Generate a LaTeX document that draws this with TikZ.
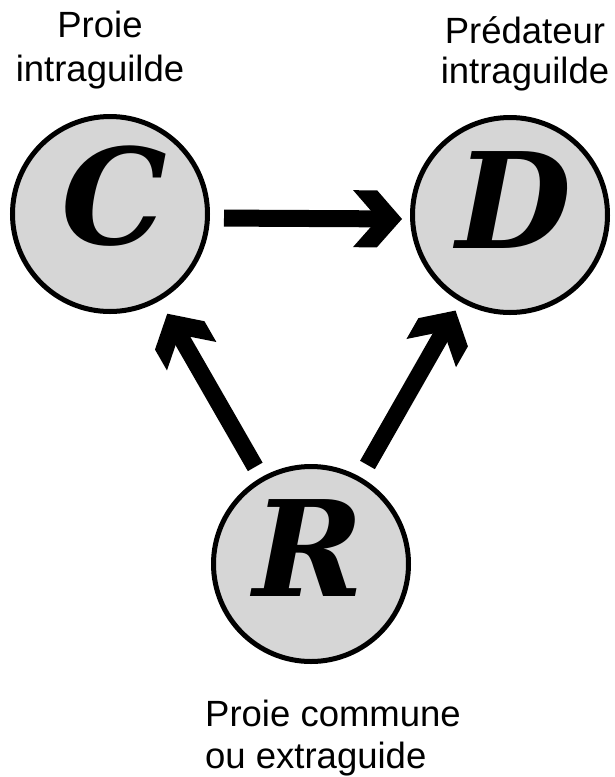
\documentclass[tikz,border=0pt]{standalone}
\usepackage{fontspec}
\setmainfont{Liberation Sans}
\newfontfamily\letterfont{DejaVu Serif}
\usetikzlibrary{arrows.meta}

\definecolor{disc}{RGB}{214,214,214}

% Chevron-shaped arrow head with flat outer corners and a back notch
\pgfdeclarearrow{
  name = Chevron,
  parameters = {\the\pgfarrowlength,\the\pgfarrowwidth},
  setup code = {
    \pgfarrowssettipend{0pt}
    \pgfarrowssetbackend{-\pgfarrowlength}
    \pgfarrowssetlineend{-0.4\pgfarrowlength}
    \pgfarrowssetvisualbackend{-0.49\pgfarrowlength}
    \pgfarrowshullpoint{0pt}{0pt}
    \pgfarrowsupperhullpoint{-\pgfarrowlength}{0.5\pgfarrowwidth}
    \pgfarrowssavethe\pgfarrowlength
    \pgfarrowssavethe\pgfarrowwidth
  },
  drawing code = {
    \pgfpathmoveto{\pgfpointorigin}
    \pgfpathlineto{\pgfqpoint{-0.51\pgfarrowlength}{0.5\pgfarrowwidth}}
    \pgfpathlineto{\pgfqpoint{-\pgfarrowlength}{0.5\pgfarrowwidth}}
    \pgfpathlineto{\pgfqpoint{-0.49\pgfarrowlength}{0pt}}
    \pgfpathlineto{\pgfqpoint{-\pgfarrowlength}{-0.5\pgfarrowwidth}}
    \pgfpathlineto{\pgfqpoint{-0.51\pgfarrowlength}{-0.5\pgfarrowwidth}}
    \pgfpathclose
    \pgfusepathqfill
  },
  defaults = {length = 49pt, width = 57pt}
}

\begin{document}
\begin{tikzpicture}[x=1pt, y=-1pt,
  species/.style={circle, draw=black, line width=5pt, fill=disc,
                  minimum size=195pt, inner sep=0pt},
  letter/.style={inner sep=0pt,
                 font=\letterfont\bfseries\itshape\fontsize{133}{133}\selectfont},
  flow/.style={draw=black, line width=17pt, -{Chevron[length=49pt, width=57pt]}},
  caption/.style={inner sep=0pt, font=\fontsize{36.5}{44}\selectfont}
]
\useasboundingbox (0,0) rectangle (615,777);

% the three species
\node[species] (C) at (110,214) {};
\node[species] (D) at (510,215) {};
\node[species] (R) at (311,564) {};

\node[letter] (Cl) at ([xshift=4pt,yshift=18pt]C.center) {C};
\node[letter] (Dl) at ([xshift=4pt,yshift=15pt]D.center) {D};
\node[letter] (Rl) at ([xshift=-2pt,yshift=16pt]R.center) {R};

% trophic links
\draw[flow, shorten <=14pt, shorten >=8pt] ([yshift=-4pt]C.east) -- ([yshift=-4pt]D.west);
\draw[flow, shorten <=12pt, shorten >=15pt] (R) -- (C);
\draw[flow, shorten <=14pt, shorten >=10pt] (R) -- (D);

% captions (anchored on the baseline of their last line)
\node[caption, align=center, anchor=base] (capC) at (100,81) {Proie\\intraguilde};
\node[caption, align=center, anchor=base,
      font=\fontsize{36.5}{40}\selectfont] (capD) at (525,83) {Prédateur\\intraguilde};
\node[caption, align=left, anchor=base west,
      font=\fontsize{36.5}{42}\selectfont] (capR) at (205,768) {Proie commune\\ou extraguide};
\end{tikzpicture}
\end{document}
